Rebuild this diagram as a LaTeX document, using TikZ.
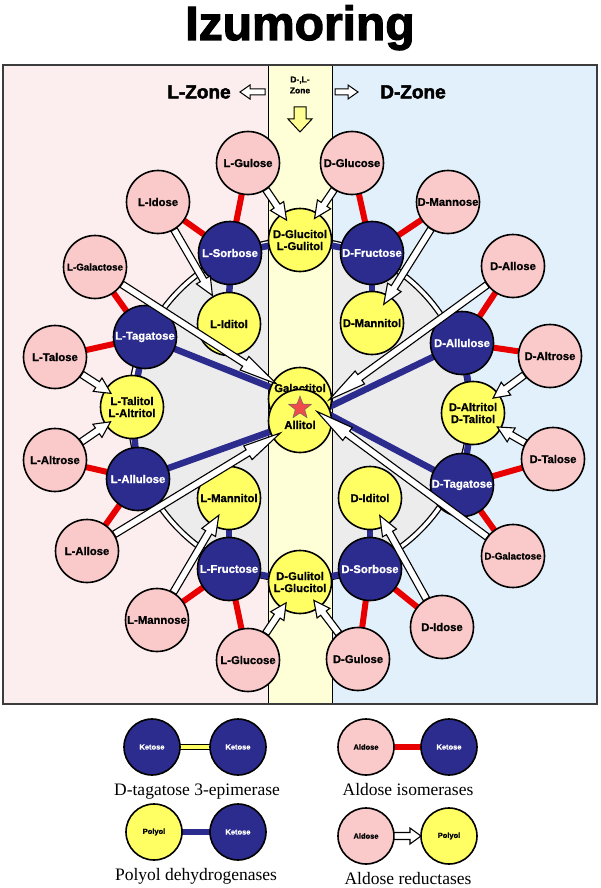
\documentclass[tikz,border=0pt]{standalone}
\usepackage{fontspec}
\setmainfont{Liberation Sans}
\newfontfamily\legendserif{Liberation Serif}
\newfontfamily\heavysans{Liberation Sans Bold}[FakeBold=1]
\newfontfamily\blacksans{Liberation Sans Bold}[FakeBold=2.5]
\usetikzlibrary{calc,shapes.geometric}
\pgfdeclarelayer{back}
\pgfdeclarelayer{mid}
\pgfsetlayers{back,mid,main}
\definecolor{pinkbg}{RGB}{252,238,238}
\definecolor{yellowbg}{RGB}{255,255,215}
\definecolor{bluebg}{RGB}{226,240,251}
\definecolor{aldosec}{RGB}{250,202,202}
\definecolor{ketosec}{RGB}{44,44,142}
\definecolor{polyolc}{RGB}{255,255,100}
\definecolor{isored}{RGB}{232,0,0}
\definecolor{ringgray}{RGB}{236,236,236}
\definecolor{framec}{RGB}{60,60,60}
\definecolor{starc}{RGB}{240,75,75}
\tikzset{
  sugar/.style={circle, draw=black, line width=1.6pt, minimum size=63pt, inner sep=0pt, align=center,
    font=\heavysans\fontsize{11.3}{12}\selectfont},
  aldose/.style={sugar, fill=aldosec},
  ketose/.style={sugar, fill=ketosec, text=white},
  polyol/.style={sugar, fill=polyolc},
  smalltxt/.style={font=\heavysans\fontsize{9.8}{10}\selectfont},
  isoline/.style={line width=6pt, isored},
  dhline/.style={line width=6.5pt, ketosec},
  epiline/.style={black, line width=1pt, double=polyolc, double distance=4pt},
  redarrow/.style={draw=black, line width=1.1pt, fill=white, line join=miter},
  zonearrow/.style={draw=black, line width=1pt, fill=white},
  zonelabel/.style={font=\blacksans\fontsize{19}{20}\selectfont},
  legendsugar/.style={minimum size=56pt, font=\heavysans\fontsize{7.5}{8}\selectfont},
  legendtext/.style={font=\legendserif\fontsize{17.5}{18}\selectfont, anchor=base},
}
% #1 start distance, #2 source, #3 target, #4 tip distance from target centre, #5 head length
\newcommand\reductase[5][32pt]{%
  \path ($(#2)!#1!(#3)$) coordinate (rS) ($(#3)!#4!(#2)$) coordinate (rE);
  \path ($(rE)!#5!(rS)$) coordinate (rH);
  \draw[redarrow] ($(rS)!3.5pt!90:(rE)$) -- ($(rH)!3.5pt!90:(rE)$) -- ($(rH)!8pt!90:(rE)$) -- (rE)
     -- ($(rH)!8pt!-90:(rE)$) -- ($(rH)!3.5pt!-90:(rE)$) -- ($(rS)!3.5pt!-90:(rE)$) -- cycle;
}
\begin{document}
\begin{tikzpicture}[x=1pt,y=-1pt]
\useasboundingbox (0,0) rectangle (600,888);
\begin{pgfonlayer}{back}
\fill[white] (0,0) rectangle (600,888);
\fill[pinkbg] (3,65) rectangle (268,704);
\fill[bluebg] (332,65) rectangle (597,704);
\draw[line width=1.3pt, double=white, double distance=3.5pt, fill=ringgray] (300,410) circle[radius=170];
\fill[yellowbg] (268,65) rectangle (332,704);
\draw[line width=1pt] (268,65) -- (268,704) (332,65) -- (332,704);
\draw[framec, line width=1.6pt] (3,65) rectangle (597,704);
\end{pgfonlayer}

% title and zone labels
\node[anchor=base, font=\blacksans\fontsize{48}{50}\selectfont] (title) at (300,40) {Izumoring};
\node[zonelabel] (lzone) at (199,92) {L-Zone};
\node[zonelabel] (dzone) at (413,92) {D-Zone};
\node[font=\heavysans\fontsize{8.5}{11}\selectfont, align=center] (dlzone) at (300,85) {D-,L-\\Zone};
\draw[zonearrow] (240,92) -- (250,85) -- (250,89) -- (265,89) -- (265,95) -- (250,95) -- (250,99) -- cycle;
\draw[zonearrow] (358,92) -- (348,85) -- (348,89) -- (335,89) -- (335,95) -- (348,95) -- (348,99) -- cycle;
\draw[zonearrow, fill=polyolc!70!white] (294,107) -- (306,107) -- (306,119) -- (312,119) -- (300,132) -- (288,119) -- (294,119) -- cycle;

% aldoses
\node[aldose] (LGul) at (248,163) {L-Gulose};
\node[aldose] (DGlc) at (352,163) {D-Glucose};
\node[aldose] (LIdo) at (158,202) {L-Idose};
\node[aldose] (DMan) at (448,202) {D-Mannose};
\node[aldose, smalltxt] (LGal) at (95,267) {L-Galactose};
\node[aldose] (DAll) at (513,266) {D-Allose};
\node[aldose] (LTal) at (55,357) {L-Talose};
\node[aldose] (DAlt) at (550,356) {D-Altrose};
\node[aldose] (LAlt) at (55,460) {L-Altrose};
\node[aldose] (DTal) at (553,459) {D-Talose};
\node[aldose] (LAll) at (87,551) {L-Allose};
\node[aldose, smalltxt] (DGal) at (513,556) {D-Galactose};
\node[aldose] (LMan) at (157,620) {L-Mannose};
\node[aldose] (DIdo) at (442,627) {D-Idose};
\node[aldose] (LGlc) at (248,660) {L-Glucose};
\node[aldose] (DGul) at (358,659) {D-Gulose};
% ketoses
\node[ketose] (LSor) at (230,253) {L-Sorbose};
\node[ketose] (DFru) at (372,253) {D-Fructose};
\node[ketose] (LTag) at (145,337) {L-Tagatose};
\node[ketose] (DAlu) at (462,343) {D-Allulose};
\node[ketose] (LAlu) at (138,479) {L-Allulose};
\node[ketose] (DTag) at (462,485) {D-Tagatose};
\node[ketose] (LFru) at (229,569) {L-Fructose};
\node[ketose] (DSor) at (370,569) {D-Sorbose};
% polyols
\node[polyol] (DGlcol) at (300,240) {D-Glucitol\\L-Gulitol};
\node[polyol] (LIdol) at (229,324) {L-Iditol};
\node[polyol] (DManol) at (372,323) {D-Mannitol};
\node[polyol] (LTalol) at (132,407) {L-Talitol\\L-Altritol};
\node[polyol] (DAltol) at (473,413) {D-Altritol\\D-Talitol};
\node[polyol, text depth=22pt] (Galol) at (300,399) {Galactitol};
\node[polyol, text height=16pt] (Allol) at (300,421) {Allitol};
\node[polyol] (LManol) at (229,498) {L-Mannitol};
\node[polyol] (DIdol) at (370,498) {D-Iditol};
\node[polyol] (DGulol) at (300,582) {D-Gulitol\\L-Glucitol};

\begin{pgfonlayer}{mid}
% aldose isomerases
\foreach \a/\b in {LGul/LSor, LIdo/LSor, DGlc/DFru, DMan/DFru, LGal/LTag, LTal/LTag, DAll/DAlu, DAlt/DAlu,
  LAlt/LAlu, LAll/LAlu, DTal/DTag, DGal/DTag, LMan/LFru, LGlc/LFru, DIdo/DSor, DGul/DSor}
  \draw[isoline] (\a.center) -- (\b.center);
% polyol dehydrogenases
\foreach \a/\b in {LSor/DGlcol, LSor/LIdol, DFru/DGlcol, DFru/DManol, LTag/LTalol, LTag/Galol, DAlu/DAltol, DAlu/Allol,
  LAlu/LTalol, LAlu/Allol, DTag/DAltol, DTag/Galol, LFru/LManol, LFru/DGulol, DSor/DIdol, DSor/DGulol}
  \draw[dhline] (\a.center) -- (\b.center);
\end{pgfonlayer}

% aldose reductases
\reductase{LGul}{DGlcol}{24pt}{17pt}
\reductase{DGlc}{DGlcol}{26pt}{17pt}
\reductase{LIdo}{LIdol}{33pt}{18pt}
\reductase{DMan}{DManol}{22pt}{20pt}
\reductase{LTal}{LTalol}{25pt}{16pt}
\reductase{LAlt}{LTalol}{26pt}{16pt}
\reductase{DAlt}{DAltol}{25pt}{16pt}
\reductase{DTal}{DAltol}{28pt}{16pt}
\reductase{LMan}{LManol}{20pt}{20pt}
\reductase{DIdo}{DIdol}{20pt}{20pt}
\reductase{LGlc}{DGulol}{25pt}{16pt}
\reductase{DGul}{DGulol}{23pt}{16pt}
\reductase{LGal}{Galol}{28pt}{38pt}
\reductase{DAll}{Allol}{36pt}{38pt}
\reductase{LAll}{Allol}{23pt}{38pt}
\reductase{DGal}{Galol}{21pt}{38pt}

\node[star, star points=5, star point ratio=2.4, fill=starc, draw=black!60, line width=0.5pt,
  minimum size=24pt, inner sep=0pt] (centrestar) at (300,408) {};

% legend
\node[ketose, legendsugar] (lk1) at (152,747) {Ketose};
\node[ketose, legendsugar] (lk2) at (238,747) {Ketose};
\node[aldose, legendsugar] (la1) at (366,747) {Aldose};
\node[ketose, legendsugar] (lk3) at (449,747) {Ketose};
\node[polyol, legendsugar] (lp1) at (154,832) {Polyol};
\node[ketose, legendsugar] (lk4) at (238,832) {Ketose};
\node[aldose, legendsugar] (la2) at (366,836) {Aldose};
\node[polyol, legendsugar] (lp2) at (449,836) {Polyol};
\begin{pgfonlayer}{mid}
\draw[epiline] (lk1.center) -- (lk2.center);
\draw[isoline] (la1.center) -- (lk3.center);
\draw[dhline] (lp1.center) -- (lk4.center);
\end{pgfonlayer}
\reductase[28pt]{la2}{lp2}{28pt}{11pt}
\node[legendtext] (t1) at (197,795) {D-tagatose 3-epimerase};
\node[legendtext] (t2) at (408,795) {Aldose isomerases};
\node[legendtext] (t3) at (196,880) {Polyol dehydrogenases};
\node[legendtext] (t4) at (408,884) {Aldose reductases};
\end{tikzpicture}
\end{document}
